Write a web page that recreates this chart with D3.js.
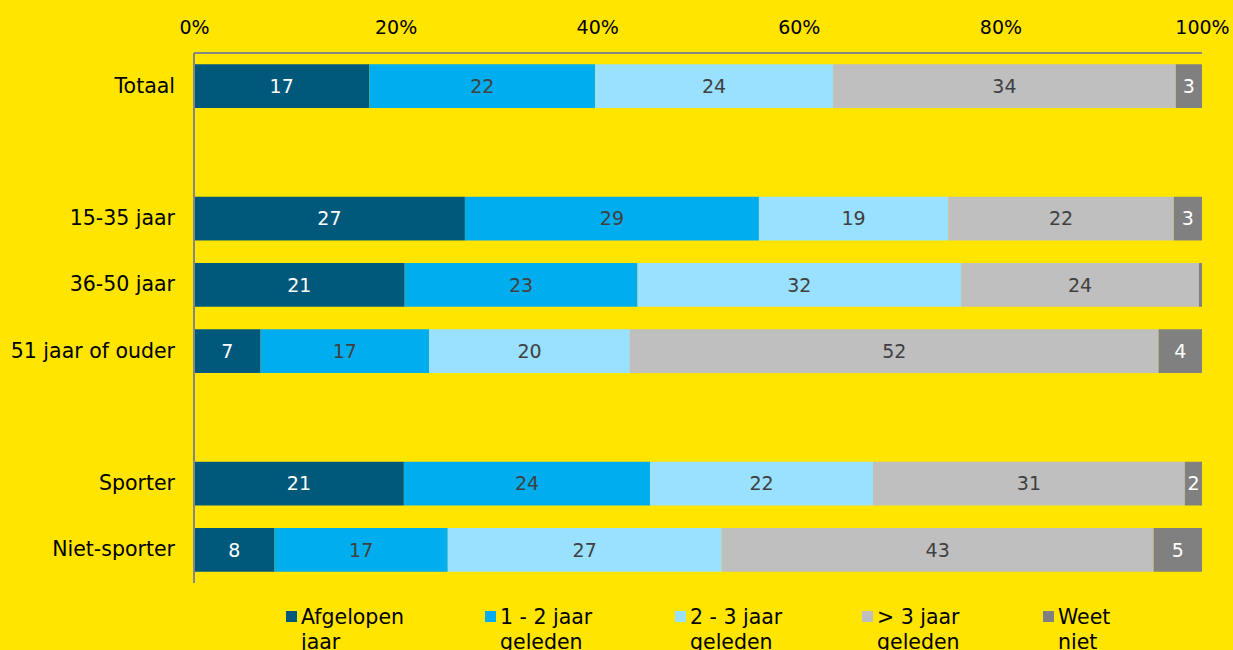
<!DOCTYPE html>
<html>
<head>
<meta charset="utf-8">
<script src="https://cdn.jsdelivr.net/npm/d3@7"></script>
<style>
  html, body { margin: 0; padding: 0; background: #ffe500; }
  svg { display: block; font-family: "DejaVu Sans", Verdana, sans-serif; }
  .axis-line { stroke: #868686; stroke-width: 2; }
</style>
</head>
<body>
<svg id="chart" width="1233" height="650"></svg>
<script>
// rows, with "" for the empty gaps between groups
const categories = ["Totaal", "", "15-35 jaar", "36-50 jaar", "51 jaar of ouder", "", "Sporter", "Niet-sporter"];
const seriesNames = ["Afgelopen jaar", "1 - 2 jaar geleden", "2 - 3 jaar geleden", "> 3 jaar geleden", "Weet niet"];
// percentages, labels show them rounded
const afgelopen = [17.4, null, 26.9, 20.9, 6.6, null, 20.8, 8.0];
const eenTweeJaar = [22.4, null, 29.2, 23.1, 16.7, null, 24.4, 17.2];
const tweeDrieJaar = [23.6, null, 18.8, 32.1, 19.9, null, 22.1, 27.2];
const meerDanDrie = [34.0, null, 22.4, 23.6, 52.4, null, 30.9, 42.9];
const weetNiet = [2.6, null, 2.8, 0.3, 4.3, null, 1.7, 4.8];
const tickValues = [0, 0.2, 0.4, 0.6, 0.8, 1];

const colors = ["#00587a", "#00aeef", "#99e1ff", "#bfbfbf", "#808080"];
const labelColors = ["#ffffff", "#404040", "#404040", "#404040", "#ffffff"];

const seriesValues = [afgelopen, eenTweeJaar, tweeDrieJaar, meerDanDrie, weetNiet];

const svg = d3.select("#chart");
const plotLeft = 194, plotRight = 1202, plotTop = 53, plotBottom = 583;

const x = d3.scaleLinear().domain([0, 1]).range([plotLeft, plotRight]);
const y = d3.scaleBand().domain(d3.range(categories.length)).range([plotTop, plotBottom]).paddingInner(0.34).paddingOuter(0.17);

// build normalised rows
const rows = categories.map((c, i) => {
  const vals = seriesValues.map(s => s[i]);
  return { cat: c, i: i, vals: vals };
}).filter(r => r.vals[0] != null);

const segs = [];
rows.forEach(r => {
  const total = d3.sum(r.vals);
  let acc = 0;
  r.vals.forEach((v, k) => {
    segs.push({ row: r.i, k: k, v: v, x0: acc / total, x1: (acc + v) / total });
    acc += v;
  });
});

svg.append("g")
  .selectAll("rect")
  .data(segs)
  .enter()
  .append("rect")
  .attr("x", d => x(d.x0))
  .attr("width", d => x(d.x1) - x(d.x0))
  .attr("y", d => y(d.row))
  .attr("height", y.bandwidth())
  .attr("fill", d => colors[d.k]);

svg.append("g")
  .selectAll("text")
  .data(segs.filter(d => d.v >= 1))
  .enter()
  .append("text")
  .attr("x", d => (x(d.x0) + x(d.x1)) / 2)
  .attr("y", d => y(d.row) + y.bandwidth() / 2)
  .attr("dy", "0.36em")
  .attr("text-anchor", "middle")
  .attr("font-size", 19)
  .attr("fill", d => labelColors[d.k])
  .text(d => d3.format(".0f")(d.v));

// axes
const xAxis = d3.axisTop(x).tickValues(tickValues).tickFormat(d3.format(".0%")).tickSize(0).tickPadding(19);
const gx = svg.append("g").attr("transform", `translate(0, ${plotTop})`).call(xAxis);
gx.select(".domain").remove();
gx.selectAll("text").attr("font-size", 19).attr("fill", "#000").attr("font-family", "DejaVu Sans, sans-serif");

const yAxis = d3.axisLeft(y).tickFormat(i => categories[i]).tickSize(0).tickPadding(19);
const gy = svg.append("g").attr("transform", `translate(${plotLeft}, 0)`).call(yAxis);
gy.select(".domain").remove();
gy.selectAll("text").attr("font-size", 20.5).attr("fill", "#000").attr("font-family", "DejaVu Sans, sans-serif");

svg.append("line").attr("class", "axis-line")
  .attr("x1", plotLeft).attr("x2", plotRight).attr("y1", plotTop).attr("y2", plotTop);
svg.append("line").attr("class", "axis-line")
  .attr("x1", plotLeft).attr("x2", plotLeft).attr("y1", plotTop).attr("y2", plotBottom);

// legend
const legendX = [286, 485, 675, 862, 1043];
const legend = svg.append("g")
  .selectAll("g")
  .data(seriesNames)
  .enter()
  .append("g")
  .attr("transform", (d, i) => `translate(${legendX[i]}, 611)`);

legend.append("rect")
  .attr("width", 11).attr("height", 11)
  .attr("fill", (d, i) => colors[i]);

legend.append("text")
  .attr("font-size", 20.5)
  .attr("fill", "#000")
  .each(function(d) {
    const words = d.split(" ");
    const lines = words.length > 2 ? [words.slice(0, -1).join(" "), words[words.length - 1]] : words;
    d3.select(this).selectAll("tspan")
      .data(lines)
      .enter()
      .append("tspan")
      .attr("x", 15)
      .attr("y", (l, j) => 13 + j * 25)
      .text(l => l);
  });
</script>
</body>
</html>
